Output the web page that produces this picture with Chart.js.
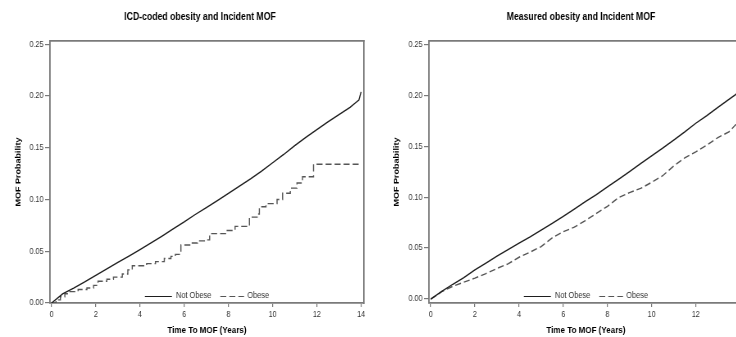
<!DOCTYPE html>
<html><head><meta charset="utf-8">
<script src="https://cdn.jsdelivr.net/npm/chart.js@4.4.1/dist/chart.umd.min.js"></script>
<style>
html,body{margin:0;padding:0;background:#fff;overflow:hidden;}
#wrap{position:relative;width:736px;height:337px;overflow:hidden;background:#fff;}
canvas{position:absolute;top:0;}
</style></head><body>
<div id="wrap">
<canvas id="c1" width="488" height="337" style="left:0px;width:400.16px;height:337px;"></canvas>
<canvas id="c2" width="515" height="337" style="left:370px;width:422.3px;height:337px;"></canvas>
</div>
<script>
// ---- data ----
const seriesNames = ['Not Obese', 'Obese'];
const chartTitles = ['ICD-coded obesity and Incident MOF', 'Measured obesity and Incident MOF'];
const xAxisTitle = 'Time To MOF (Years)';
const yAxisTitle = 'MOF Probability';
const xTickValues = [0, 2, 4, 6, 8, 10, 12, 14];
const yTickValues = [0, 0.05, 0.10, 0.15, 0.20, 0.25];

// Left panel: ICD-coded obesity
const icdNotObeseTime = [0,0.5,1,1.5,2,2.5,3,3.5,4,4.5,5,5.5,6,6.5,7,7.5,8,8.5,9,9.5,10,10.5,11,11.5,12,12.5,13,13.5,13.75,13.9,14];
const icdNotObeseProb = [0,0.0088,0.0143,0.0203,0.0268,0.0330,0.0392,0.0454,0.0516,0.0580,0.0647,0.0715,0.0783,0.0855,0.0922,0.0990,0.1060,0.1130,0.1200,0.1275,0.1355,0.1435,0.1520,0.1600,0.1675,0.1750,0.1820,0.1890,0.1935,0.1960,0.2040];
const icdObeseTime = [0,0.2,0.4,0.6,0.8,1.2,1.6,1.9,2.1,2.5,2.8,3.2,3.45,3.65,4.3,4.7,5.1,5.4,5.6,5.85,6.3,6.6,7.0,7.15,7.9,8.3,8.95,9.3,9.4,9.7,10.2,10.45,10.8,11.1,11.35,11.85,14.0];
const icdObeseProb = [0,0.003,0.006,0.009,0.011,0.013,0.0145,0.017,0.021,0.023,0.025,0.028,0.032,0.036,0.038,0.040,0.043,0.045,0.047,0.056,0.058,0.060,0.061,0.067,0.070,0.074,0.083,0.086,0.093,0.096,0.100,0.106,0.111,0.116,0.122,0.134,0.134];

// Right panel: measured obesity
const measNotObeseTime = [0,0.5,1,1.5,2,2.5,3,3.5,4,4.5,5,5.5,6,6.5,7,7.5,8,8.5,9,9.5,10,10.5,11,11.5,12,12.5,13,13.5,13.8,14];
const measNotObeseProb = [0,0.0075,0.0145,0.021,0.0285,0.0352,0.042,0.0484,0.0548,0.061,0.0677,0.0743,0.081,0.0882,0.0955,0.1025,0.110,0.1175,0.125,0.1328,0.1405,0.148,0.156,0.164,0.1725,0.1800,0.1880,0.1960,0.2006,0.2040];
const measObeseTime = [0,0.5,1,1.5,2,2.5,3,3.5,4,4.5,5,5.5,6,6.5,7,7.5,8,8.5,9,9.5,10,10.5,11,11.5,12,12.5,13,13.5,13.8,14];
const measObeseProb = [0,0.0072,0.0125,0.0165,0.0205,0.025,0.030,0.0345,0.041,0.046,0.0515,0.060,0.066,0.0705,0.077,0.084,0.091,0.0995,0.1045,0.1085,0.1145,0.121,0.1305,0.1385,0.1445,0.151,0.1585,0.164,0.171,0.172];

// ---- styling ----
const SANS = "'Liberation Sans',Arial,sans-serif";
const AX = '#7a7a7a';
const TC = '#333';
const DASH = [7.3, 3.7];

function pts(t, v){ return t.map((x,i)=>({x:x, y:v[i]})); }

const inLegend = {
  id: 'inLegend',
  afterDatasetsDraw(chart){
    const {ctx, chartArea} = chart;
    const ds = chart.data.datasets;
    ctx.save();
    ctx.font = "9px " + SANS;
    ctx.textBaseline = 'middle';
    const lens = [33, 29], gapT = [5, 4], gapAfter = 11;
    const w0 = ctx.measureText(ds[0].label).width, w1 = ctx.measureText(ds[1].label).width;
    const total = lens[0]+gapT[0]+w0+gapAfter+lens[1]+gapT[1]+w1;
    let x = (chartArea.left+chartArea.right)/2 - total/2;
    const y = chartArea.bottom - 7;
    ds.forEach((d,i)=>{
      ctx.beginPath();
      ctx.setLineDash(d.borderDash || []);
      ctx.strokeStyle = d.borderColor;
      ctx.lineWidth = 1.2;
      ctx.moveTo(x, y+0.5); ctx.lineTo(x+lens[i], y+0.5); ctx.stroke();
      x += lens[i] + gapT[i];
      ctx.setLineDash([]);
      ctx.fillStyle = TC;
      ctx.fillText(d.label, x, y);
      x += (i===0 ? w0 : w1) + gapAfter;
    });
    ctx.restore();
  }
};

function makeChart(id, p){
  return new Chart(document.getElementById(id), {
    type: 'line',
    data: { datasets: [
      { label: seriesNames[0], data: pts(p.t0, p.v0), borderColor: '#1e1e1e', borderWidth: 1.4, pointRadius: 0, tension: 0 },
      { label: seriesNames[1], data: pts(p.t1, p.v1), borderColor: '#555', borderWidth: 1.4, borderDash: DASH, pointRadius: 0, tension: 0, stepped: p.stepped }
    ]},
    options: {
      responsive: false, animation: false, events: [],
      layout: { padding: 0 },
      plugins: {
        legend: { display: false }, tooltip: { enabled: false },
        title: { display: true, text: p.title, color: '#000', font: { family: SANS, size: 10.6, weight: 'bold' }, padding: { top: 11, bottom: 17.3 } }
      },
      scales: {
        x: { type: 'linear', position: 'bottom', min: p.xmin, max: p.xmax,
          afterBuildTicks: s => { s.ticks = xTickValues.map(v => ({value: v})); },
          afterFit: s => { s.height = 34; },
          grid: { display: true, drawOnChartArea: false, drawTicks: true, tickLength: 4, color: AX, lineWidth: 1.2 },
          border: { display: true, color: AX, width: 1.8 },
          ticks: { color: TC, font: { family: SANS, size: 8.7 }, padding: 2, maxRotation: 0, autoSkip: false, callback: v => String(v) },
          title: { display: true, text: xAxisTitle, color: '#000', font: { family: SANS, size: 9.8, weight: 'bold' }, padding: { top: 0, bottom: 1 } }
        },
        y: { type: 'linear', position: 'left', min: p.ymin, max: p.ymax,
          afterBuildTicks: s => { s.ticks = yTickValues.map(v => ({value: v})); },
          afterFit: s => { s.width = p.yw; },
          grid: { display: true, drawOnChartArea: false, drawTicks: true, tickLength: 6, color: AX, lineWidth: 1.2 },
          border: { display: true, color: AX, width: 1.8 },
          ticks: { color: TC, font: { family: SANS, size: 8.7 }, padding: 2, autoSkip: false, callback: v => Number(v).toFixed(2) },
          title: { display: true, text: yAxisTitle, color: '#000', font: { family: SANS, size: 9, weight: 'bold' }, padding: { top: p.ytp, bottom: 0 } }
        },
        xT: { axis: 'x', type: 'linear', position: 'top', display: true,
          afterFit: s => { s.height = 0; },
          grid: { display: false }, ticks: { display: false },
          border: { display: true, color: AX, width: 1.8 } },
        yR: { axis: 'y', type: 'linear', position: 'right', display: true,
          afterFit: s => { s.width = p.rw; },
          grid: { display: false }, ticks: { display: false },
          border: { display: true, color: AX, width: 1.8 } }
      }
    },
    plugins: [inLegend]
  });
}

makeChart('c1', { title: chartTitles[0], t0: icdNotObeseTime, v0: icdNotObeseProb, t1: icdObeseTime, v1: icdObeseProb, stepped: true,
  xmin: -0.07, xmax: 14.13, ymin: 0, ymax: 0.2531, yw: 61, rw: 44, ytp: 17.2 });
makeChart('c2', { title: chartTitles[1], t0: measNotObeseTime, v0: measNotObeseProb, t1: measObeseTime, v1: measObeseProb, stepped: false,
  xmin: -0.077, xmax: 14.13, ymin: -0.0039, ymax: 0.2532, yw: 72, rw: 60, ytp: 27.2 });
</script>
</body></html>
